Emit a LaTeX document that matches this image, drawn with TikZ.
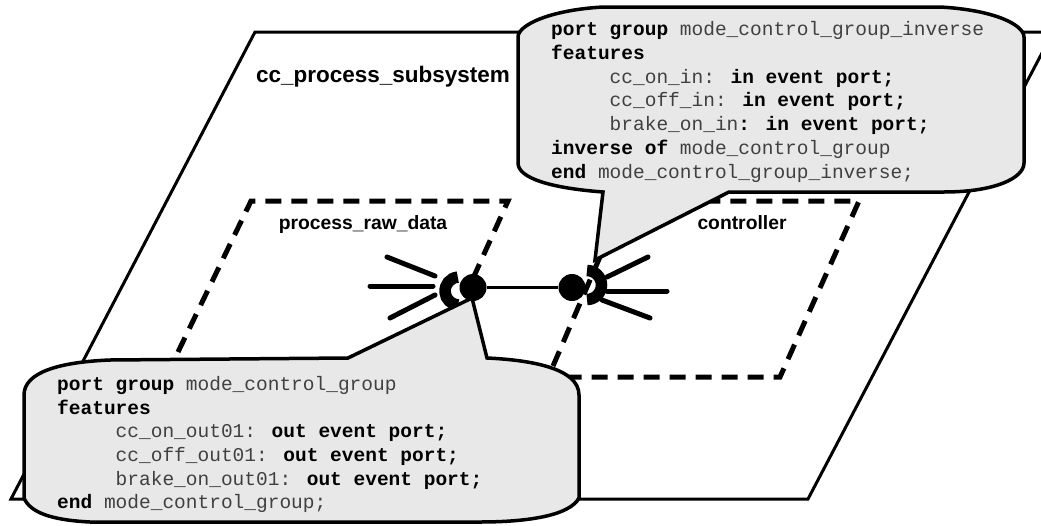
\documentclass[tikz,border=0pt]{standalone}
\usepackage{fontspec}
\setmainfont{Liberation Sans}
\newfontfamily\codefont{Liberation Mono}
\newcommand{\kw}[1]{\textcolor{black}{\textbf{#1}}}
\tikzset{
  x=1pt,y=-1pt,
  frameline/.style={draw=black,line width=3pt,line join=miter},
  dashline/.style={draw=black,line width=5pt,dash pattern=on 16pt off 10pt},
  stub/.style={draw=black,line width=5pt,line cap=round},
  socket/.style={draw=black,line width=11.5pt},
  portdot/.style={circle,fill=black,inner sep=0pt,minimum size=27pt},
  wire/.style={draw=black,line width=3pt},
  bubble/.style={draw=black,fill=black!9,line width=3.5pt,line join=miter},
  code/.style={anchor=north west,align=left,inner sep=0pt,text=black!75,font=\codefont\fontsize{19.5}{23.7}\selectfont},
  titlelabel/.style={font=\bfseries\fontsize{22.5}{27}\selectfont,inner sep=0pt},
  sublabel/.style={font=\bfseries\fontsize{19.3}{23}\selectfont,inner sep=0pt}
}
\begin{document}
\begin{tikzpicture}
\clip (0,0) rectangle (1041,525);
\fill[white] (0,0) rectangle (1041,525);
% system frame
\draw[frameline] (255,32) -- (1053,32) -- (808,499) -- (11,499) -- cycle;
% subcomponents
\draw[dashline] (178,352) -- (251,201) -- (508,201) -- (470,285);
\draw[dashline] (553,366) -- (624,201) -- (859,201) -- (780,377) -- (555,377);
% event port stubs
\draw[stub] (387,257) -- (435,276);
\draw[stub] (370,286) -- (433,286);
\draw[stub] (390,318) -- (435,295);
\draw[stub] (607,277) -- (648,257);
\draw[stub] (607,291) -- (667,291);
\draw[stub] (602,300) -- (650,318);
% port group sockets
\draw[socket] (457.8,277.1) arc[start angle=95,end angle=265,radius=14pt];
\draw[socket] (587,270.5) arc[start angle=90,end angle=-90,radius=14.5pt];
% port group dots and connection
\node[portdot] (pl) at (473,287.5) {};
\node[portdot] (pr) at (572,287.5) {};
\draw[wire] (pl) -- (pr);
% labels
\node[titlelabel] (sys) at (383,77) {cc\_process\_subsystem};
\node[sublabel] (prd) at (363,225) {process\_raw\_data};
\node[sublabel] (ctl) at (742,223) {controller};
% top callout
\draw[bubble] (603,7) -- (940,7)
  .. controls (995,10) and (1024,25) .. (1024,37) -- (1024,163)
  .. controls (1024,178) and (995,192) .. (944,192)
  -- (729,192) -- (595,260) -- (603,192)
  .. controls (550,188) and (518,178) .. (518,163) -- (518,37)
  .. controls (518,25) and (550,10) .. (603,7) -- cycle;
\node[code] (tc) at (551,21.5) {\kw{port group} mode\_control\_group\_inverse\\
\kw{features}\\
\hspace*{58.5pt}cc\_on\_in: \kw{in event port;}\\
\hspace*{58.5pt}cc\_off\_in: \kw{in event port;}\\
\hspace*{58.5pt}brake\_on\_in\kw{: in event port;}\\
\kw{inverse of} mode\_control\_group\\
\kw{end} mode\_control\_group\_inverse;};
% bottom callout
\draw[bubble] (110,360) -- (348,358) -- (472,298) -- (487,358)
  .. controls (530,360) and (579,368) .. (579,395) -- (579,498)
  .. controls (570,515) and (530,522) .. (480,522)
  -- (90,522)
  .. controls (50,520) and (30,512) .. (24,498) -- (24,395)
  .. controls (24,372) and (60,362) .. (110,360) -- cycle;
\node[code] (bc) at (57,376) {\kw{port group} mode\_control\_group\\
\kw{features}\\
\hspace*{58.5pt}cc\_on\_out01: \kw{out event port;}\\
\hspace*{58.5pt}cc\_off\_out01: \kw{out event port;}\\
\hspace*{58.5pt}brake\_on\_out01: \kw{out event port;}\\
\kw{end} mode\_control\_group;};
\end{tikzpicture}
\end{document}
